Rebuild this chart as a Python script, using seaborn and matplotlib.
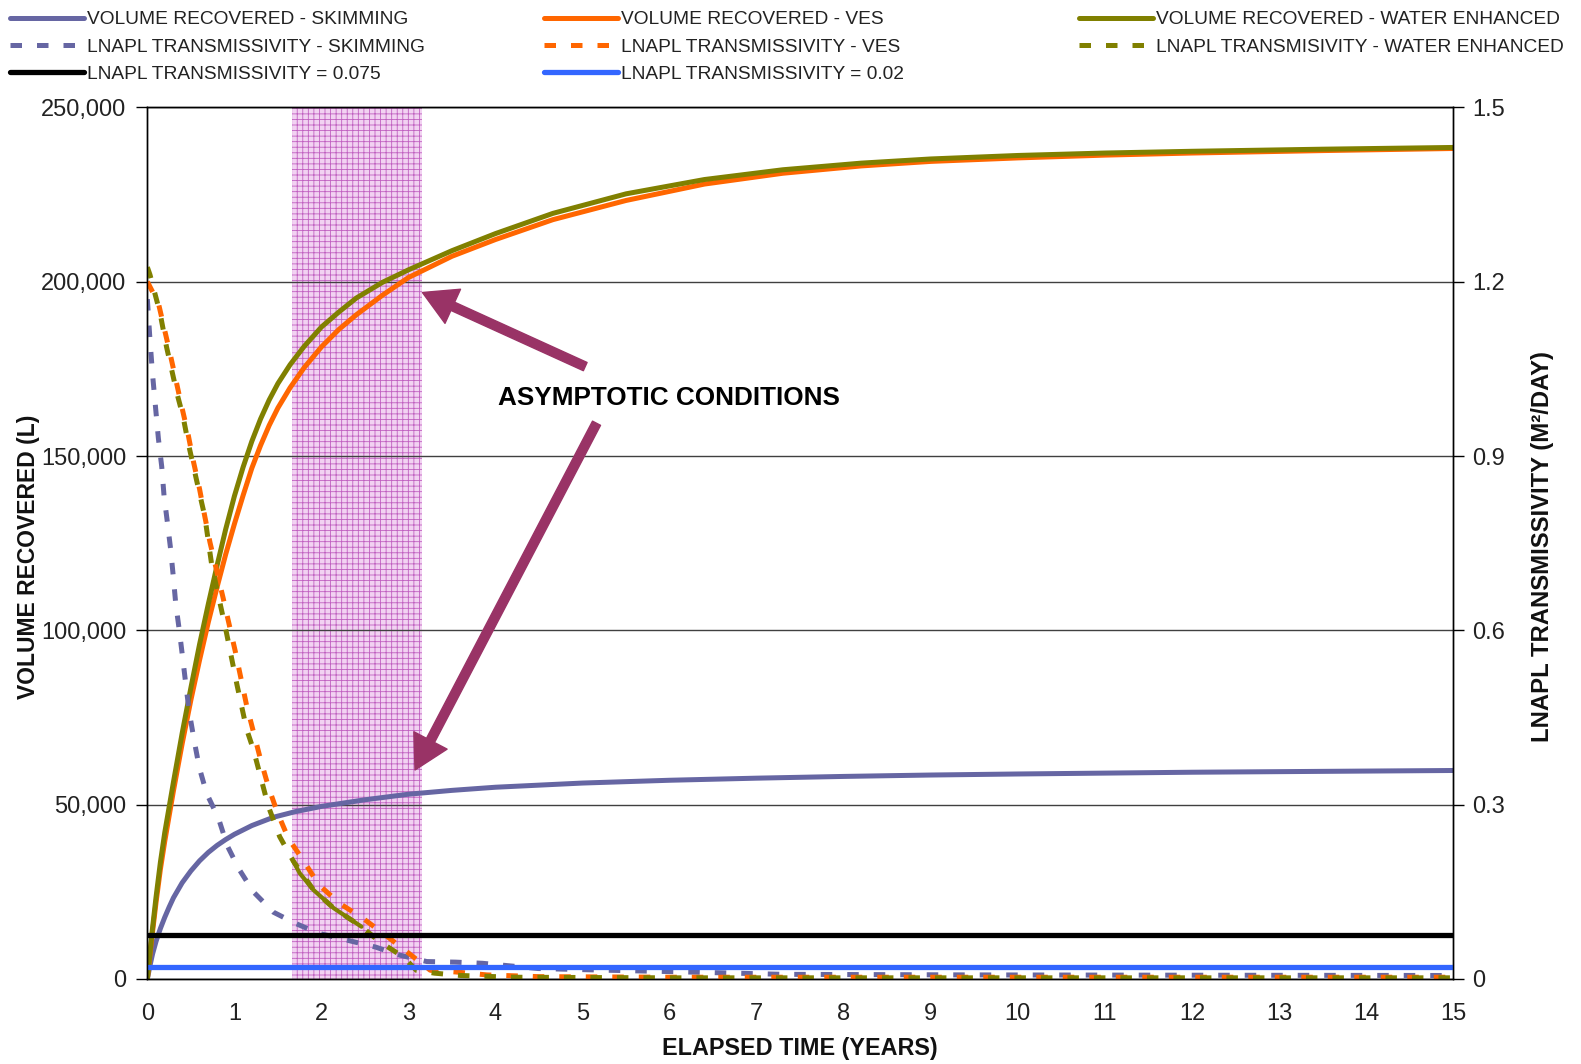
import matplotlib.pyplot as plt
import matplotlib.ticker as mticker
import seaborn as sns

# values
# volume recovered (L) vs elapsed time (years)
skim_vol_t = [0, 0.03, 0.06, 0.1, 0.15, 0.2, 0.25, 0.3, 0.4, 0.5, 0.6, 0.7, 0.8, 0.9, 1.0, 1.2, 1.45, 1.7,
              2.0, 2.5, 3.0, 3.5, 4, 5, 6, 7, 8, 9, 10, 12, 15]
skim_vol = [0, 3800, 7200, 10800, 14500, 17700, 20600, 23300, 27600, 31000, 33900, 36300, 38300, 40000, 41500,
            44000, 46400, 48000, 49500, 51400, 53000, 54100, 55000, 56200, 57000, 57600, 58100, 58500, 58800,
            59300, 59800]

ves_vol_t = [0, 0.05, 0.1, 0.15, 0.2, 0.3, 0.4, 0.5, 0.6, 0.7, 0.8, 0.9, 1.0, 1.1, 1.2, 1.3, 1.4, 1.5, 1.64,
             1.8, 2.0, 2.2, 2.4, 2.7, 3.0, 3.5, 4.0, 4.66, 5.5, 6.4, 7.3, 8.2, 9, 10, 11, 12, 13.5, 15]
ves_vol = [0, 11500, 22000, 31500, 39500, 54000, 67500, 80000, 91500, 102300, 112300, 121800, 130500, 138700,
           146500, 153000, 158800, 163800, 169600, 175300, 181300, 186300, 190500, 196100, 201200, 207300,
           212100, 217800, 223300, 228000, 231100, 233200, 234500, 235500, 236300, 236900, 237600, 238200]

we_vol_t = [0, 0.05, 0.1, 0.15, 0.2, 0.3, 0.4, 0.5, 0.6, 0.7, 0.8, 0.9, 1.0, 1.1, 1.2, 1.3, 1.4, 1.5, 1.64,
            1.8, 2.0, 2.2, 2.4, 2.7, 3.0, 3.5, 4.0, 4.66, 5.5, 6.4, 7.3, 8.2, 9, 10, 11, 12, 13.5, 15]
we_vol = [0, 12500, 23500, 33500, 42000, 56500, 70500, 83500, 96000, 107500, 118500, 129000, 138500, 146800,
          154200, 160600, 166100, 170800, 176200, 181400, 187000, 191300, 195300, 199800, 203400, 208900,
          213800, 219600, 225200, 229300, 232100, 234000, 235200, 236200, 236900, 237400, 238000, 238500]

# LNAPL transmissivity (m2/day) vs elapsed time (years)
skim_tr_t = [0, 0.03, 0.06, 0.10, 0.127, 0.165, 0.192, 0.23, 0.268, 0.299, 0.326, 0.368, 0.407, 0.445, 0.483,
             0.537, 0.598, 0.682, 0.816, 0.919, 1.053, 1.218, 1.448, 1.697, 1.96, 2.29, 2.62, 2.90, 3.21, 3.54,
             3.85, 4.49, 5.3, 6.05, 7.3, 9.5, 12, 15]
skim_tr = [1.17, 1.10, 1.04, 0.974, 0.930, 0.882, 0.831, 0.786, 0.739, 0.691, 0.646, 0.599, 0.551, 0.503, 0.458,
           0.411, 0.363, 0.319, 0.277, 0.229, 0.189, 0.150, 0.115, 0.096, 0.079, 0.067, 0.055, 0.041, 0.030, 0.029,
           0.027, 0.018, 0.015, 0.0126, 0.008, 0.007, 0.0065, 0.006]

ves_tr_t = [0, 0.127, 0.26, 0.395, 0.47, 0.53, 0.60, 0.66, 0.72, 0.87, 1.01, 1.14, 1.30, 1.39, 1.49, 1.62, 1.80,
            1.97, 2.21, 2.48, 2.73, 2.98, 3.25, 3.55, 3.9, 4.5, 6, 8, 10, 12, 15]
ves_tr = [1.2, 1.163, 1.077, 0.985, 0.936, 0.89, 0.843, 0.796, 0.751, 0.656, 0.564, 0.471, 0.378, 0.331, 0.288,
          0.242, 0.202, 0.162, 0.130, 0.104, 0.076, 0.047, 0.015, 0.012, 0.007, 0.004, 0.003, 0.003, 0.003, 0.003,
          0.003]

we_tr_t = [0, 0.03, 0.146, 0.22, 0.34, 0.41, 0.47, 0.53, 0.59, 0.66, 0.74, 0.91, 1.03, 1.14, 1.22, 1.39, 1.52,
           1.68, 1.91, 2.14, 2.46, 2.67, 2.94, 3.09, 3.3, 3.6, 4.2, 6, 15]
we_tr = [1.225, 1.212, 1.146, 1.088, 1.008, 0.968, 0.922, 0.882, 0.842, 0.796, 0.712, 0.595, 0.506, 0.430, 0.394,
         0.297, 0.245, 0.202, 0.153, 0.122, 0.090, 0.064, 0.038, 0.015, 0.010, 0.006, 0.003, 0.002, 0.002]

# short solid piece of the water enhanced transmissivity curve
we_tr_solid_t = [1.68, 1.75, 1.91, 2.14, 2.46]
we_tr_solid = [0.202, 0.182, 0.153, 0.122, 0.090]

tr_limits = [0.075, 0.02]
asymptotic_span = [1.66, 3.15]

vol_ticks = [0, 50000, 100000, 150000, 200000, 250000]
tr_ticks = [0, 0.3, 0.6, 0.9, 1.2, 1.5]
tr_tick_labels = ['0', '0.3', '0.6', '0.9', '1.2', '1.5']
year_ticks = list(range(0, 16))

c_skim = '#6666a3'
c_ves = '#ff6600'
c_we = '#808000'
c_arrow = '#993366'
dash = (0, (2.3, 3.0))

sns.set_theme(style='white')
plt.rcParams['font.family'] = ['Liberation Sans', 'DejaVu Sans']
plt.rcParams['hatch.linewidth'] = 0.6

fig = plt.figure(figsize=(15.81, 10.64), dpi=100)
ax = fig.add_axes([0.0932, 0.0799, 0.8259, 0.8192])
ax2 = ax.twinx()

# shaded "asymptotic conditions" band
ax.axvspan(asymptotic_span[0], asymptotic_span[1], facecolor='#f2d2f2', edgecolor='#c060c0',
           hatch='+++', linewidth=0, zorder=0.5)

# volume recovered curves (left axis)
sns.lineplot(x=skim_vol_t, y=skim_vol, ax=ax, color=c_skim, linewidth=3.6, errorbar=None, legend=False)
h_skim_vol = ax.lines[-1]
sns.lineplot(x=ves_vol_t, y=ves_vol, ax=ax, color=c_ves, linewidth=3.6, errorbar=None, legend=False)
h_ves_vol = ax.lines[-1]
sns.lineplot(x=we_vol_t, y=we_vol, ax=ax, color=c_we, linewidth=3.6, errorbar=None, legend=False)
h_we_vol = ax.lines[-1]

# transmissivity curves (right axis)
sns.lineplot(x=skim_tr_t, y=skim_tr, ax=ax2, color=c_skim, linewidth=3.6, linestyle=dash, errorbar=None, legend=False)
h_skim_tr = ax2.lines[-1]
sns.lineplot(x=ves_tr_t, y=ves_tr, ax=ax2, color=c_ves, linewidth=3.6, linestyle=dash, errorbar=None, legend=False)
h_ves_tr = ax2.lines[-1]
sns.lineplot(x=we_tr_t, y=we_tr, ax=ax2, color=c_we, linewidth=3.6, linestyle=dash, errorbar=None, legend=False)
h_we_tr = ax2.lines[-1]
sns.lineplot(x=we_tr_solid_t, y=we_tr_solid, ax=ax2, color=c_we, linewidth=3.0, errorbar=None, legend=False)

h_lim1 = ax2.axhline(tr_limits[0], color='black', linewidth=3.8)
h_lim2 = ax2.axhline(tr_limits[1], color='#3366ff', linewidth=3.8)

# axes
ax.set_xlim(0, 15)
ax.set_ylim(0, 250000)
ax2.set_ylim(0, 1.5)
ax.set_xticks(year_ticks)
ax.set_yticks(vol_ticks)
ax.yaxis.set_major_formatter(mticker.StrMethodFormatter('{x:,.0f}'))
ax2.set_yticks(tr_ticks, labels=tr_tick_labels)

ax.set_axisbelow('line')
ax.yaxis.grid(True, color='#404040', linewidth=1.0)
ax.xaxis.grid(False)
ax2.grid(False)

for a in (ax, ax2):
    for s in a.spines.values():
        s.set_color('black')
        s.set_linewidth(1.0)
ax.tick_params(axis='both', direction='out', length=8, width=1, color='black', labelcolor='#222222',
               labelsize=17)
ax.tick_params(axis='x', pad=9)
ax.tick_params(axis='y', pad=7)
ax2.tick_params(axis='y', direction='out', length=8, width=1, color='black', labelcolor='#222222',
                labelsize=17, pad=6)

ax.set_xlabel('ELAPSED TIME (YEARS)', fontsize=16.8, fontweight='bold', color='#111111')
ax.xaxis.label.set_va('center')
ax.xaxis.set_label_coords(0.5, -0.0799)
ax.set_ylabel('VOLUME RECOVERED (L)', fontsize=16.5, fontweight='bold', color='#111111')
ax.yaxis.label.set_va('center')
ax.yaxis.set_label_coords(-0.0911, 0.484)
ax2.set_ylabel('LNAPL TRANSMISSIVITY (M²/DAY)', fontsize=17.2, fontweight='bold', color='#111111',
               rotation=90)
ax2.yaxis.label.set_va('center')
ax2.yaxis.set_label_coords(1.0686, 0.496)

# annotation
arrow_style = 'simple,head_width=2.7,head_length=2.4,tail_width=0.65'
ax.annotate('', xy=(3.16, 196900), xytext=(5.03, 175650),
            arrowprops=dict(arrowstyle=arrow_style, mutation_scale=10, color=c_arrow, shrinkA=0, shrinkB=0))
ax.annotate('', xy=(3.075, 59950), xytext=(5.16, 159400),
            arrowprops=dict(arrowstyle=arrow_style, mutation_scale=10, color=c_arrow, shrinkA=0, shrinkB=0))
ax.text(4.03, 166750, 'ASYMPTOTIC CONDITIONS', fontsize=18.8, fontweight='bold', color='black',
        ha='left', va='center')

# legend in three columns across the top
legend_cols = [
    (0.0063, [h_skim_vol, h_skim_tr, h_lim1],
     ['VOLUME RECOVERED - SKIMMING', 'LNAPL TRANSMISSIVITY - SKIMMING', 'LNAPL TRANSMISSIVITY = 0.075']),
    (0.3444, [h_ves_vol, h_ves_tr, h_lim2],
     ['VOLUME RECOVERED - VES', 'LNAPL TRANSMISSIVITY - VES', 'LNAPL TRANSMISSIVITY = 0.02']),
    (0.6825, [h_we_vol, h_we_tr],
     ['VOLUME RECOVERED - WATER ENHANCED', 'LNAPL TRANSMISIVITY - WATER ENHANCED']),
]
for x0, handles, labels in legend_cols:
    fig.legend(handles, labels, loc='upper left', bbox_to_anchor=(x0, 0.9897), frameon=False,
               fontsize=13.8, handlelength=3.85, handletextpad=0.15, labelspacing=0.51,
               borderpad=0, borderaxespad=0, labelcolor='#222222')

fig.savefig('out.png', dpi=100)
